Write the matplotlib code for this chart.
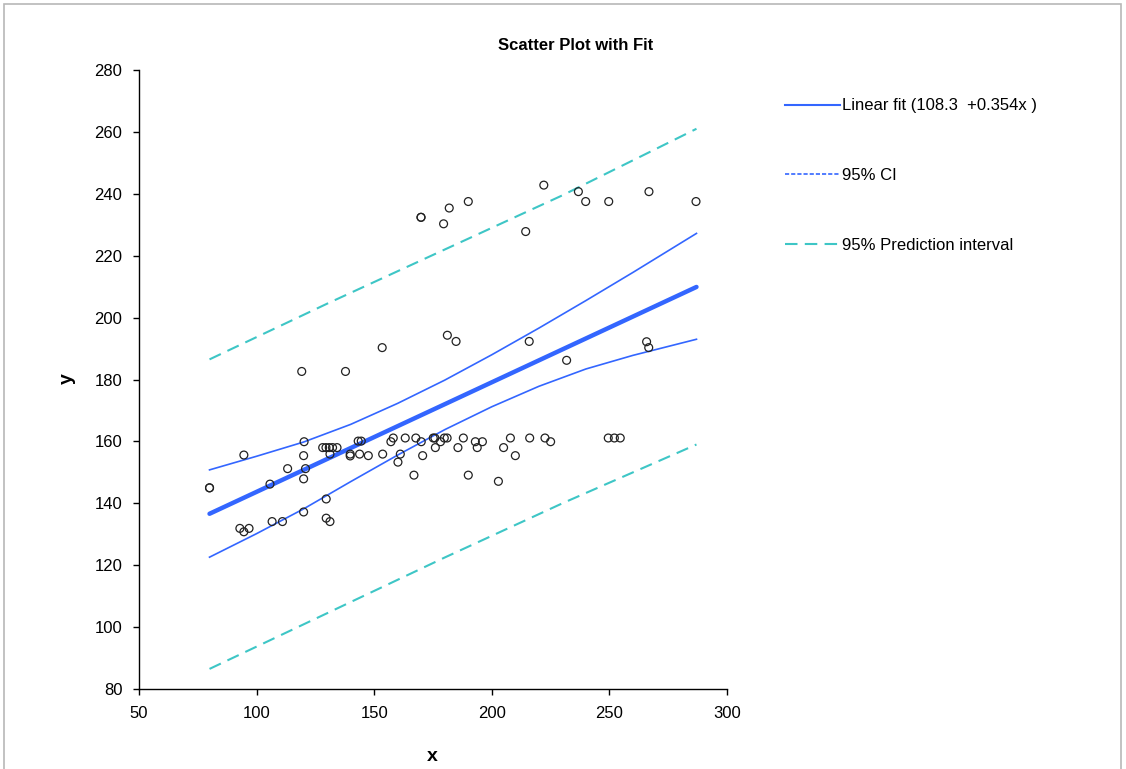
import matplotlib
matplotlib.use("Agg")
import matplotlib.pyplot as plt
from matplotlib.lines import Line2D
from matplotlib.patches import Rectangle
import numpy as np

plt.rcParams['font.family'] = ['Liberation Sans', 'DejaVu Sans']

# scatter points
x_pts = [80, 80, 94.6, 92.9, 94.6, 96.8, 105.7, 106.6, 111, 113.2,
         120.2, 120, 120.8, 120, 120, 129.6, 129.6, 131.2,
         128.1, 129.5, 130.9, 132.3, 134.2, 131.2, 139.8, 139.8, 143.8, 147.5, 153.6,
         143.2, 144.5, 157.1, 158.1, 163.2, 161.1, 160.1, 167.7, 170, 170.6, 166.9,
         175.1, 175.8, 176, 178.2, 179.8, 181.0, 185.6, 187.9, 193, 193.8, 196,
         190, 202.8, 205, 207.9, 210, 216.1, 222.6, 225, 249.5, 252.1, 254.6,
         119.2, 137.8, 153.4, 169.9, 169.9, 179.5, 181.9, 190, 181.1, 184.8,
         215.9, 214.4, 222.1, 236.8, 239.9, 249.7, 266.8, 286.8, 231.8, 265.8, 266.7]
y_pts = [145, 145, 155.6, 131.9, 130.8, 131.9, 146.2, 134.1, 134.1, 151.2,
         159.9, 155.4, 151.2, 147.9, 137.2, 141.4, 135.2, 134.1,
         158, 158, 158, 158, 158, 155.9, 155.9, 155.3, 155.9, 155.4, 155.9,
         160.1, 160.1, 159.9, 161.1, 161.1, 155.9, 153.3, 161.1, 159.9, 155.4, 149.1,
         161.1, 161.1, 158, 159.9, 161.1, 161.1, 158, 161.1, 159.9, 158, 159.9,
         149.1, 147.1, 158, 161.1, 155.4, 161.1, 161.1, 159.9, 161.1, 161.1, 161.1,
         182.6, 182.6, 190.3, 232.4, 232.4, 230.3, 235.4, 237.5, 194.3, 192.3,
         192.3, 227.8, 242.8, 240.7, 237.5, 237.5, 240.7, 237.5, 186.2, 192.2, 190.3]

# linear fit from the legend
intercept = 108.3
slope = 0.354
fit_x = [80, 287]

# confidence band
ci_x = [80, 100, 120, 140, 160, 180, 200, 220, 240, 260, 287]
ci_upper = [150.8, 155.2, 159.8, 165.5, 172.3, 179.8, 188.0, 196.6, 205.5, 214.6, 227.2]
ci_lower = [122.6, 130.2, 138.2, 147.0, 155.6, 163.8, 171.2, 177.8, 183.4, 187.8, 193.0]

# prediction band
pi_x = [80, 130, 180, 230, 287]
pi_upper = [186.5, 204.5, 222, 239.5, 261]
pi_lower = [86.5, 104.5, 122.5, 140, 159]

fit_color = '#3366ff'
pi_color = '#3ec6c6'

fig = plt.figure(figsize=(11.26, 7.69), dpi=100)
ax = fig.add_axes([0.1234, 0.104, 0.5223, 0.805])

fit_y = [intercept + slope * v for v in fit_x]
ax.plot(fit_x, fit_y, color=fit_color, lw=3.2, solid_capstyle='round')
ax.plot(ci_x, ci_upper, color=fit_color, lw=1.2)
ax.plot(ci_x, ci_lower, color=fit_color, lw=1.2)
ax.plot(pi_x, pi_upper, color=pi_color, lw=1.5, dashes=(6, 3.5))
ax.plot(pi_x, pi_lower, color=pi_color, lw=1.5, dashes=(6, 3.5))
ax.scatter(x_pts, y_pts, s=32, facecolors='none', edgecolors='#222222', linewidths=0.9, zorder=3)

ax.set_xlim(50, 300)
ax.set_ylim(80, 280)
ax.set_xticks(np.arange(50, 301, 50))
ax.set_yticks(np.arange(80, 281, 20))
for s in ['top', 'right']:
    ax.spines[s].set_visible(False)
for s in ['left', 'bottom']:
    ax.spines[s].set_linewidth(1.0)
ax.tick_params(axis='both', direction='out', length=4, width=1, labelsize=12)
ax.tick_params(axis='x', pad=8)
ax.tick_params(axis='y', pad=8)

fig.text(0.511, 0.941, 'Scatter Plot with Fit', ha='center', va='center',
         fontsize=12, fontweight='bold')
fig.text(0.0595, 0.508, 'y', ha='center', va='center', rotation=90,
         fontsize=14, fontweight='bold')
fig.text(0.384, 0.016, 'x', ha='center', va='center', fontsize=14, fontweight='bold')

handles = [
    Line2D([], [], color=fit_color, lw=1.5),
    Line2D([], [], color=fit_color, lw=1.2, dashes=(2.5, 1.2)),
    Line2D([], [], color=pi_color, lw=1.5, dashes=(6, 3.5)),
]
labels = ['Linear fit (108.3  +0.354x )', '95% CI', '95% Prediction interval']
fig.legend(handles, labels, loc='upper left', bbox_to_anchor=(0.697, 0.872),
           frameon=False, fontsize=12, handlelength=3.3, handletextpad=0.15,
           labelspacing=3.28, borderpad=0, borderaxespad=0)

fig.add_artist(Rectangle((4 / 1126, -0.05), 1117 / 1126, 1.05 - 4 / 769,
                         transform=fig.transFigure, fill=False,
                         edgecolor='#b8b8b8', lw=1.2))

fig.savefig('out.png', dpi=100)
